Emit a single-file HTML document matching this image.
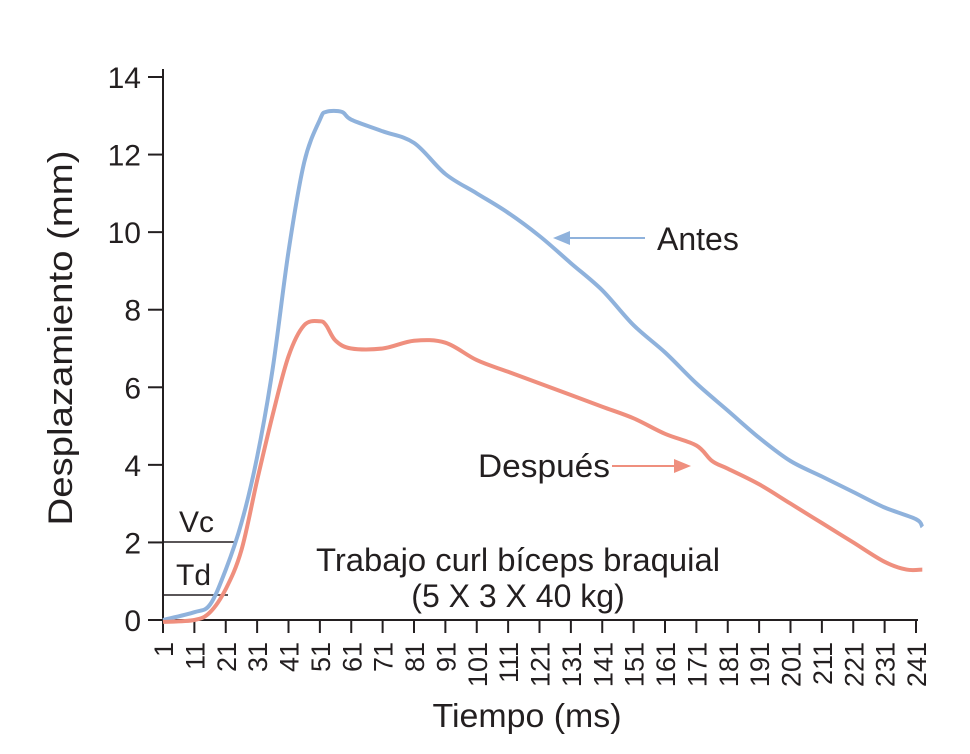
<!DOCTYPE html>
<html><head><meta charset="utf-8"><style>
body{margin:0;background:#fff}
svg{display:block;font-family:"Liberation Sans",sans-serif;fill:#231f20}
</style></head><body>
<svg id="c" width="970" height="754"></svg>
<script>
const times=[1,11,16,21,26,31,36,41,46,51,53,58,61,71,81,91,101,111,121,131,141,151,161,171,181,191,201,211,221,231,241,243];
const antes=[0,0.2,0.4,1.3,2.5,4.2,6.5,9.5,11.8,12.9,13.1,13.1,12.9,12.6,12.3,11.5,11.0,10.5,9.9,9.2,8.5,7.6,6.9,6.1,5.4,4.7,4.1,3.7,3.3,2.9,2.6,2.4];
const despuesT=[1,11,16,21,26,31,36,41,46,51,53,56,61,71,81,91,101,111,121,131,141,151,161,171,176,181,191,201,211,221,231,238,243];
const despues=[-0.05,0,0.2,0.8,1.8,3.6,5.3,6.8,7.6,7.7,7.6,7.2,7.0,7.0,7.2,7.15,6.7,6.4,6.1,5.8,5.5,5.2,4.8,4.5,4.1,3.9,3.5,3.0,2.5,2.0,1.5,1.3,1.3];
const yTicks=[0,2,4,6,8,10,12,14];
const xTicks=[1,11,21,31,41,51,61,71,81,91,101,111,121,131,141,151,161,171,181,191,201,211,221,231,241];
const X=t=>163+(t-1)*(916-163)/240;
const Y=v=>620-v*(620-77)/14;
const svg=document.getElementById('c');
const NS='http://www.w3.org/2000/svg';
function mk(tag,attrs,txt){const e=document.createElementNS(NS,tag);for(const k in attrs)e.setAttribute(k,attrs[k]);if(txt!==undefined)e.textContent=txt;svg.appendChild(e);return e;}
let e;
e=mk('line',{x1:163,y1:Y(14)-8,x2:163,y2:620,stroke:'#231f20','stroke-width':2});


e=mk('line',{x1:163,y1:620,x2:918,y2:620,stroke:'#231f20','stroke-width':2});


yTicks.forEach(v=>{
 e=mk('line',{x1:148,y1:Y(v),x2:163,y2:Y(v),stroke:'#231f20','stroke-width':2});
 
 
 e=mk('text',{x:141,y:Y(v)+11,'text-anchor':'end','font-size':30},v);
 
 
});
xTicks.forEach(t=>{
 e=mk('line',{x1:X(t),y1:620,x2:X(t),y2:633,stroke:'#231f20','stroke-width':2});
 
 
 e=mk('text',{x:0,y:0,'text-anchor':'end','font-size':27,transform:`translate(${X(t)+10},642) rotate(-90)`},t);
 
 
});
function path(ts,vs,col,name){
 const p=ts.map((t,i)=>[X(t),Y(vs[i])]);
 let d='M'+p[0][0].toFixed(1)+','+p[0][1].toFixed(1);
 for(let i=0;i<p.length-1;i++){
  const p0=p[Math.max(0,i-1)],p1=p[i],p2=p[i+1],p3=p[Math.min(p.length-1,i+2)];
  const c1=[p1[0]+(p2[0]-p0[0])/6,p1[1]+(p2[1]-p0[1])/6];
  const c2=[p2[0]-(p3[0]-p1[0])/6,p2[1]-(p3[1]-p1[1])/6];
  d+=' C'+c1.map(n=>n.toFixed(1)).join(',')+' '+c2.map(n=>n.toFixed(1)).join(',')+' '+p2.map(n=>n.toFixed(1)).join(',');
 }
 e=mk('path',{d:d,fill:'none',stroke:col,'stroke-width':4,'stroke-linejoin':'round'});
 
 
}
e=mk('line',{x1:163,y1:542,x2:237,y2:542,stroke:'#231f20','stroke-width':1.5});


e=mk('line',{x1:163,y1:595,x2:228,y2:595,stroke:'#231f20','stroke-width':1.5});


path(times,antes,'#8fb2dc','antes-line');
path(despuesT,despues,'#ef8f7e','despues-line');
e=mk('text',{x:179,y:532,'font-size':30},'Vc');


e=mk('text',{x:176,y:585,'font-size':30},'Td');


e=mk('text',{x:518,y:571,'text-anchor':'middle','font-size':32,textLength:404,lengthAdjust:'spacingAndGlyphs'},'Trabajo curl bíceps braquial');


e=mk('text',{x:518,y:607,'text-anchor':'middle','font-size':32},'(5 X 3 X 40 kg)');


e=mk('line',{x1:645,y1:238,x2:566,y2:238,stroke:'#8fb2dc','stroke-width':2});


e=mk('polygon',{points:'553,238 570,231 570,245',fill:'#8fb2dc'});


e=mk('text',{x:657,y:250,'font-size':32},'Antes');


e=mk('text',{x:478,y:477,'font-size':32,textLength:132,lengthAdjust:'spacingAndGlyphs'},'Después');


e=mk('line',{x1:612,y1:466,x2:678,y2:466,stroke:'#ef8f7e','stroke-width':2});


e=mk('polygon',{points:'691,466 674,459 674,473',fill:'#ef8f7e'});


e=mk('text',{x:527,y:727,'text-anchor':'middle','font-size':33,textLength:189,lengthAdjust:'spacingAndGlyphs'},'Tiempo (ms)');


e=mk('text',{x:0,y:0,'text-anchor':'middle','font-size':34,textLength:375,lengthAdjust:'spacingAndGlyphs',transform:'translate(72,338) rotate(-90)'},'Desplazamiento (mm)');


</script>
</body></html>
